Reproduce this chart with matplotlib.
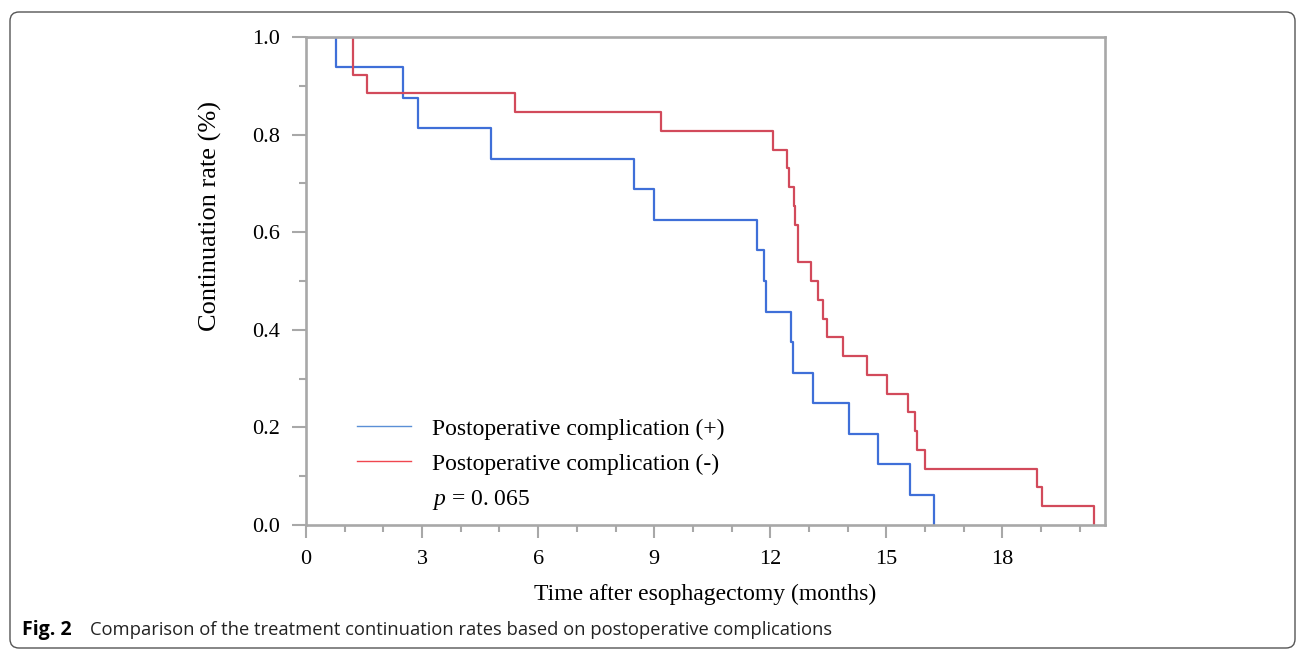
import matplotlib
matplotlib.use('Agg')
import matplotlib.pyplot as plt
from matplotlib.lines import Line2D
from matplotlib.patches import FancyBboxPatch
from matplotlib.ticker import MultipleLocator

# event times (months) and continuation rate after each event
plus_time = [0, 0.77, 2.51, 2.90, 4.77, 8.48, 8.99, 11.66, 11.83, 11.89, 12.53, 12.59,
             13.11, 14.04, 14.79, 15.61, 16.24]
plus_rate = [1.0, 0.9375, 0.875, 0.8125, 0.75, 0.6875, 0.625, 0.5625, 0.5, 0.4375, 0.375,
             0.3125, 0.25, 0.1875, 0.125, 0.0625, 0.0]

minus_time = [0, 1.22, 1.58, 5.40, 9.17, 12.07, 12.42, 12.48, 12.60, 12.65, 12.71, 13.06,
              13.24, 13.35, 13.47, 13.87, 14.50, 15.02, 15.55, 15.73, 15.78, 16.01, 18.89,
              19.03, 20.37]
minus_rate = [1.0, 0.923, 0.885, 0.846, 0.808, 0.769, 0.731, 0.692, 0.654, 0.615, 0.538,
              0.5, 0.462, 0.423, 0.385, 0.346, 0.308, 0.269, 0.231, 0.192, 0.154, 0.115,
              0.077, 0.038, 0.0]

labels = ['Postoperative complication (+)', 'Postoperative complication (-)']
x_ticks = [0, 3, 6, 9, 12, 15, 18]
y_ticks = [0.0, 0.2, 0.4, 0.6, 0.8, 1.0]

plt.rcParams['font.family'] = ['Liberation Serif', 'DejaVu Serif']
plt.rcParams['mathtext.fontset'] = 'custom'
plt.rcParams['mathtext.rm'] = 'Liberation Serif'
plt.rcParams['mathtext.it'] = 'Liberation Serif:italic'

fig = plt.figure(figsize=(12.96, 6.49), dpi=100)
ax = fig.add_axes([306 / 1296, 1 - 525 / 649, 799 / 1296, 488 / 649])

gray = '#a8a8a8'
ax.step(plus_time, plus_rate, where='post', color='#3f6fd8', lw=1.6)
ax.step(minus_time, minus_rate, where='post', color='#d24a5b', lw=1.6)

ax.set_xlim(0, 20.65)
ax.set_ylim(0, 1)
ax.set_xticks(x_ticks)
ax.set_yticks(y_ticks)
ax.set_yticklabels(['%.1f' % v for v in y_ticks])
ax.xaxis.set_minor_locator(MultipleLocator(1))
ax.yaxis.set_minor_locator(MultipleLocator(0.1))
for s in ax.spines.values():
    s.set_color(gray)
    s.set_linewidth(1.9)
    s.set_zorder(3)
ax.tick_params(which='major', direction='out', color=gray, width=1.5, labelsize=16)
ax.tick_params(axis='y', which='major', length=10, pad=9)
ax.tick_params(axis='x', which='major', length=9, pad=9)
ax.tick_params(which='minor', direction='out', color=gray, width=1.5, length=5)

ax.set_xlabel('Time after esophagectomy (months)', fontsize=17, va='center')
ax.xaxis.set_label_coords(0.5, -0.143)
ax.set_ylabel('Continuation rate (%)', fontsize=19, va='center')
ax.yaxis.set_label_coords(-0.12, 0.633)

handles = [Line2D([], [], color='#5b8fd6', lw=1.0), Line2D([], [], color='#f0474f', lw=1.0)]
ax.legend(handles, labels, loc='upper left', bbox_to_anchor=(357 / 1296, 1 - 418 / 649),
          bbox_transform=fig.transFigure, frameon=False, fontsize=17, borderpad=0,
          borderaxespad=0, handlelength=2.3, handletextpad=0.88, labelspacing=0.58)
ax.text((432 - 306) / 799, (525 - 505) / 488, r'$p$ = 0. 065', transform=ax.transAxes,
        fontsize=17, va='baseline', ha='left')

# caption and border
fig.text(22 / 1296, 1 - 635 / 649, 'Fig. 2', family='Open Sans', weight='bold', fontsize=14,
         va='baseline')
fig.text(90 / 1296, 1 - 635 / 649,
         'Comparison of the treatment continuation rates based on postoperative complications',
         family='Open Sans', fontsize=13.2, va='baseline', color='#222222')
fig.add_artist(FancyBboxPatch((10, 1), 1285, 636, boxstyle='round,pad=0,rounding_size=9',
                              transform=None, fill=False, edgecolor='#555555', lw=1.0))

fig.savefig('out.png', dpi=100)
